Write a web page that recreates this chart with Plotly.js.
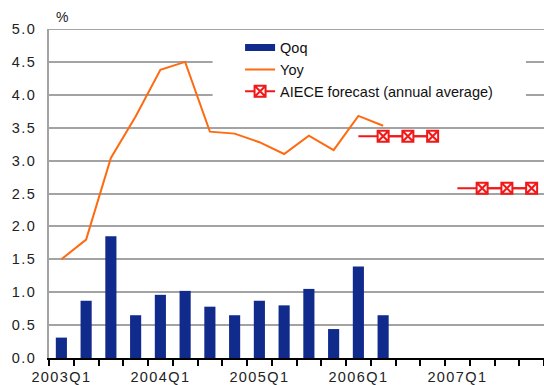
<!DOCTYPE html>
<html>
<head>
<meta charset="utf-8">
<script src="https://cdn.plot.ly/plotly-3.0.1.min.js"></script>
<style>
  html, body { margin: 0; padding: 0; background: #fff; }
  #chart { width: 544px; height: 385px; }
  /* wide, spaced-out axis numbers */
  .xtick text, .ytick text { letter-spacing: 1.4px; }
</style>
</head>
<body>
<div id="chart"></div>
<script>
// Quarters shown on the category axis
const quarters = [
  '2003Q1','2003Q2','2003Q3','2003Q4',
  '2004Q1','2004Q2','2004Q3','2004Q4',
  '2005Q1','2005Q2','2005Q3','2005Q4',
  '2006Q1','2006Q2','2006Q3','2006Q4',
  '2007Q1','2007Q2','2007Q3','2007Q4'
];
// Labelled ticks (every first quarter)
const tickLabels = ['2003Q1', '2004Q1', '2005Q1', '2006Q1', '2007Q1'];

// Quarter-on-quarter growth, %
const qoqQuarters = quarters.slice(0, 14);
const qoq = [0.31, 0.87, 1.85, 0.65, 0.96, 1.02, 0.78, 0.65, 0.87, 0.80, 1.05, 0.44, 1.39, 0.65];

// Year-on-year growth, %
const yoy = [1.50, 1.80, 3.04, 3.67, 4.38, 4.50, 3.44, 3.41, 3.28, 3.10, 3.38, 3.16, 3.68, 3.53];

// AIECE forecast, annual averages
const forecastYears = ['2006', '2007'];
const forecastAvg = [3.37, 2.58];

const NAVY = '#112b8c';
const ORANGE = '#ff6a10';
const RED = '#f01818';
const GRID = '#a3a3a3';
const FONT = 'Liberation Sans, Arial, sans-serif';

const traces = [];

traces.push({
  type: 'bar',
  x: qoqQuarters,
  y: qoq,
  width: 0.45,
  marker: { color: NAVY },
  name: 'Qoq',
  showlegend: false,
  hoverinfo: 'x+y'
});

// legend entry for the bars, drawn as a wide flat swatch
traces.push({
  type: 'scatter',
  mode: 'lines',
  x: [null],
  y: [null],
  name: 'Qoq',
  line: { color: NAVY, width: 7 },
  hoverinfo: 'skip'
});

traces.push({
  type: 'scatter',
  mode: 'lines',
  x: qoqQuarters,
  y: yoy,
  name: 'Yoy',
  line: { color: ORANGE, width: 2 }
});

forecastYears.forEach((yr, i) => {
  const qs = quarters.filter(q => q.startsWith(yr));
  const vals = qs.map(() => forecastAvg[i]);
  // flat line across the whole year
  traces.push({
    type: 'scatter',
    mode: 'lines',
    x: qs,
    y: vals,
    line: { color: RED, width: 2 },
    showlegend: false,
    hoverinfo: 'skip'
  });
  // markers on the later quarters
  traces.push({
    type: 'scatter',
    mode: 'lines+markers',
    x: qs.slice(1),
    y: vals.slice(1),
    name: 'AIECE forecast (annual average)',
    showlegend: i === 0,
    line: { color: RED, width: 2 },
    marker: {
      symbol: 'square-x',
      size: 11,
      color: '#fff4f4',
      line: { color: RED, width: 2 }
    }
  });
});

const layout = {
  width: 544,
  height: 385,
  margin: { l: 49, r: 0, t: 29, b: 27 },
  paper_bgcolor: '#ffffff',
  plot_bgcolor: '#ffffff',
  font: { family: FONT, size: 14, color: '#222222' },
  showlegend: true,
  legend: {
    x: 0.386,
    y: 0.992,
    xanchor: 'left',
    yanchor: 'top',
    bgcolor: 'rgba(0,0,0,0)',
    borderwidth: 0,
    font: { family: FONT, size: 14.5, color: '#111111' },
    tracegroupgap: 0,
    itemwidth: 30
  },
  xaxis: {
    type: 'category',
    categoryorder: 'array',
    categoryarray: quarters,
    range: [-0.5, quarters.length - 0.5],
    tickmode: 'array',
    tickvals: quarters,
    ticktext: quarters.map(q => tickLabels.includes(q) ? q : ''),
    tickson: 'boundaries',
    tickangle: 0,
    ticks: 'outside',
    ticklen: 6,
    tickwidth: 2,
    tickcolor: '#000000',
    ticklabelstandoff: 5,
    showline: true,
    linecolor: '#000000',
    linewidth: 2,
    showgrid: false,
    zeroline: false,
    tickfont: { family: FONT, size: 14.5, color: '#222222' },
    fixedrange: true
  },
  yaxis: {
    range: [0, 5],
    dtick: 0.5,
    tick0: 0,
    tickformat: '.1f',
    ticks: '',
    ticklabelstandoff: 8,
    showline: true,
    linecolor: GRID,
    linewidth: 2,
    showgrid: true,
    gridcolor: GRID,
    gridwidth: 2,
    zeroline: false,
    tickfont: { family: FONT, size: 14.5, color: '#222222' },
    fixedrange: true
  },
  shapes: [
    // white panel behind the legend, hiding the gridlines there
    {
      type: 'rect', xref: 'x', yref: 'y', layer: 'between',
      x0: 6.11, x1: 18.77, y0: 3.77, y1: 5,
      fillcolor: '#ffffff', line: { width: 0 }
    },
    // top border of the plot area
    {
      type: 'line', xref: 'paper', yref: 'y', layer: 'above',
      x0: 0, x1: 1, y0: 5, y1: 5,
      line: { color: GRID, width: 2 }
    }
  ],
  annotations: [
    {
      text: '%', xref: 'paper', yref: 'paper',
      x: 0.026, y: 1.035, xanchor: 'center', yanchor: 'middle',
      showarrow: false,
      font: { family: FONT, size: 14, color: '#222222' }
    }
  ]
};

Plotly.newPlot('chart', traces, layout, { displayModeBar: false, staticPlot: true });
</script>
</body>
</html>
